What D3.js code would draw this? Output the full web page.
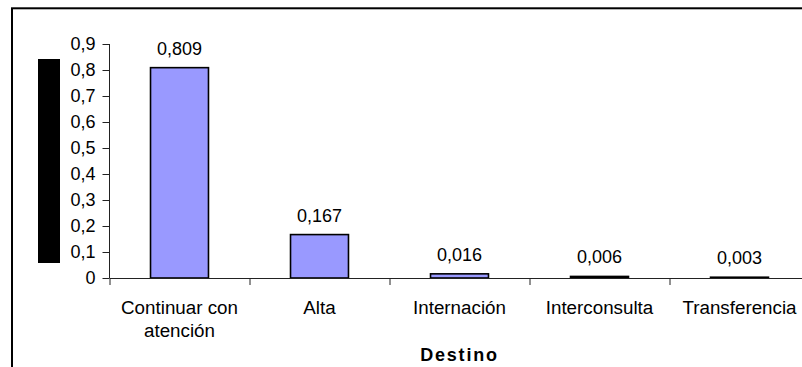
<!DOCTYPE html>
<html>
<head>
<meta charset="utf-8">
<script src="https://cdn.jsdelivr.net/npm/d3@7"></script>
<style>
  html, body { margin: 0; padding: 0; background: #fff; overflow: hidden; }
  svg { display: block; }
  text { font-family: Arial, "Liberation Sans", sans-serif; fill: #000; }
</style>
</head>
<body>
<script>
// Destino de los pacientes (proporción)
const categories = ["Continuar con atención", "Alta", "Internación", "Interconsulta", "Transferencia"];
const categoryLines = [["Continuar con", "atención"], ["Alta"], ["Internación"], ["Interconsulta"], ["Transferencia"]];
const values = [0.809, 0.167, 0.016, 0.006, 0.003];
const yTicks = [0, 0.1, 0.2, 0.3, 0.4, 0.5, 0.6, 0.7, 0.8, 0.9];
const xTitle = "Destino";

const W = 802, H = 367;
const plot = { left: 109.5, right: 809.5, top: 44, bottom: 278 };

const locale = d3.formatLocale({ decimal: ",", thousands: ".", grouping: [3], currency: ["", ""] });
const fmtTick = v => v === 0 ? "0" : locale.format(".1f")(v);
const fmtVal = locale.format(".3f");

const svg = d3.select("body").append("svg")
  .attr("width", W).attr("height", H);

// outer chart border
svg.append("rect")
  .attr("x", 12).attr("y", 8.3)
  .attr("width", 900).attr("height", 500)
  .attr("fill", "none").attr("stroke", "#000").attr("stroke-width", 2);

// vertical title block
svg.append("rect")
  .attr("x", 38).attr("y", 59).attr("width", 22).attr("height", 204)
  .attr("fill", "#000");

const y = d3.scaleLinear().domain([0, 0.9]).range([plot.bottom, plot.top]);
const x = d3.scaleBand().domain(categories)
  .range([plot.left, plot.right])
  .paddingInner(0.586).paddingOuter(0.293);
// category boundaries for tick marks
const xb = d3.scaleLinear().domain([0, categories.length]).range([plot.left, plot.right]);

// bars
svg.append("g").selectAll("rect")
  .data(values)
  .join("rect")
  .attr("x", (d, i) => x(categories[i]))
  .attr("y", d => y(d))
  .attr("width", x.bandwidth())
  .attr("height", d => y(0) - y(d))
  .attr("fill", "#9999FF")
  .attr("stroke", "#000")
  .attr("stroke-width", 1.6);

// y axis
const yAxis = svg.append("g")
  .attr("transform", `translate(${plot.left},0)`)
  .call(d3.axisLeft(y).tickValues(yTicks).tickFormat(fmtTick).tickSize(7).tickPadding(7).tickSizeOuter(0));
yAxis.select(".domain").attr("stroke", "#222").attr("d", `M0,${plot.top}V${plot.bottom}`);
yAxis.selectAll(".tick line").attr("stroke", "#222");
yAxis.selectAll(".tick text")
  .attr("font-family", 'Arial, "Liberation Sans", sans-serif')
  .attr("font-size", 18).attr("fill", "#000");

// x axis with ticks between categories
const xAxis = svg.append("g")
  .attr("transform", `translate(0,${plot.bottom})`)
  .call(d3.axisBottom(xb).tickValues(d3.range(0, categories.length + 1)).tickFormat("").tickSize(7).tickSizeOuter(0));
xAxis.select(".domain").attr("stroke", "#222");
xAxis.selectAll(".tick line").attr("stroke", "#222");

// category labels
const catG = svg.append("g");
categories.forEach((c, i) => {
  const t = catG.append("text")
    .attr("x", x(c) + x.bandwidth() / 2)
    .attr("y", 313.5)
    .attr("text-anchor", "middle")
    .attr("font-size", 18.8);
  categoryLines[i].forEach((line, j) => {
    t.append("tspan")
      .attr("x", x(c) + x.bandwidth() / 2)
      .attr("dy", j === 0 ? 0 : 23)
      .text(line);
  });
});

// value labels
svg.append("g").selectAll("text")
  .data(values)
  .join("text")
  .attr("x", (d, i) => x(categories[i]) + x.bandwidth() / 2)
  .attr("y", d => y(d) - 13)
  .attr("text-anchor", "middle")
  .attr("font-size", 18)
  .text(d => fmtVal(d));

// axis title
svg.append("text")
  .attr("x", (plot.left + plot.right) / 2)
  .attr("y", 360.5)
  .attr("text-anchor", "middle")
  .attr("font-size", 18)
  .attr("font-weight", "bold")
  .attr("letter-spacing", 1.8)
  .text(xTitle);
</script>
</body>
</html>
